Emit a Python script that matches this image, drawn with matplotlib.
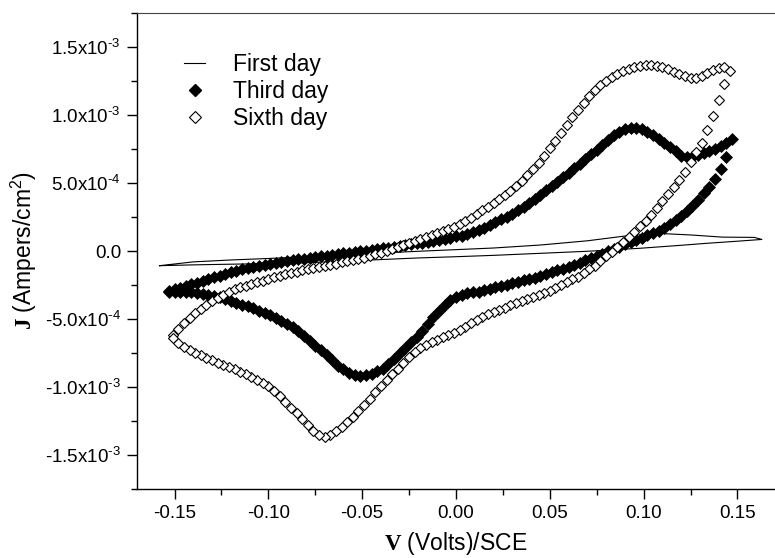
import numpy as np
import matplotlib
matplotlib.use("Agg")
import matplotlib.pyplot as plt
from matplotlib.ticker import MultipleLocator, FixedLocator, FixedFormatter
from matplotlib.lines import Line2D

plt.rcParams['font.family'] = ['Liberation Sans', 'DejaVu Sans']
plt.rcParams['mathtext.fontset'] = 'custom'
plt.rcParams['mathtext.rm'] = 'Liberation Sans'
plt.rcParams['mathtext.it'] = 'Liberation Sans:italic'
plt.rcParams['mathtext.bf'] = 'Liberation Serif:bold'

SCALE = 1e-4  # all current values below are in units of 1e-4 A/cm2

# First day: thin line loop, (V, J) read at key points
first_v_up = [-0.158, -0.14, -0.12, -0.10, -0.08, -0.06, -0.04, -0.02, 0.0, 0.02,
              0.045, 0.07, 0.09, 0.107, 0.125, 0.142, 0.159]
first_j_up = [-1.08, -0.80, -0.66, -0.55, -0.42, -0.28, -0.15, -0.02, 0.10, 0.22,
              0.44, 0.75, 1.10, 1.30, 1.18, 1.02, 1.00]
first_v_low = [-0.158, -0.14, -0.12, -0.10, -0.08, -0.06, -0.04, -0.02, 0.0, 0.02,
               0.045, 0.07, 0.098, 0.12, 0.133, 0.15, 0.163]
first_j_low = [-1.08, -1.02, -0.97, -0.93, -0.86, -0.75, -0.63, -0.51, -0.42, -0.32,
               -0.17, -0.02, 0.20, 0.42, 0.56, 0.72, 0.85]

# potential program: step of the sweep (V)
v_step = 0.003

# Third day, anodic sweep from -0.153 V to 0.147 V
third_fwd_start = -0.153
third_fwd = [-2.97, -2.83, -2.70, -2.57, -2.44, -2.32, -2.19, -2.06, -1.94, -1.82,
             -1.70, -1.58, -1.45, -1.34, -1.26, -1.18, -1.10, -1.02, -0.94, -0.87,
             -0.80, -0.74, -0.68, -0.62, -0.56, -0.50, -0.45, -0.39, -0.34, -0.28,
             -0.23, -0.18, -0.13, -0.08, -0.03, 0.02, 0.07, 0.13, 0.19, 0.25,
             0.32, 0.38, 0.44, 0.50, 0.56, 0.62, 0.69, 0.75, 0.78, 0.86,
             0.96, 1.07, 1.12, 1.24, 1.38, 1.52, 1.70, 1.90, 2.11, 2.32,
             2.52, 2.73, 2.98, 3.27, 3.56, 3.85, 4.14, 4.45, 4.78, 5.11,
             5.44, 5.77, 6.10, 6.43, 6.77, 7.10, 7.43, 7.80, 8.15, 8.50,
             8.78, 8.97, 9.08, 9.08, 8.97, 8.78, 8.53, 8.24, 7.92, 7.62,
             7.34, 6.98, 6.90, 6.92, 7.04, 7.18, 7.34, 7.50, 7.72, 7.97,
             8.22]
# Third day, cathodic sweep from 0.144 V back to -0.153 V
third_rev_start = 0.144
third_rev = [6.93, 6.05, 5.30, 4.72, 4.25, 3.78, 3.34, 2.93, 2.58, 2.27,
             1.96, 1.70, 1.46, 1.30, 1.14, 0.98, 0.82, 0.65, 0.48, 0.31,
             0.14, -0.03, -0.19, -0.35, -0.52, -0.69, -0.86, -1.00, -1.15, -1.29,
             -1.43, -1.58, -1.72, -1.84, -1.95, -2.05, -2.16, -2.26, -2.37, -2.47,
             -2.57, -2.67, -2.78, -2.88, -2.98, -3.05, -3.12, -3.22, -3.40, -3.62,
             -4.00, -4.42, -4.88, -5.40, -5.88, -6.30, -6.72, -7.12, -7.53, -7.93,
             -8.30, -8.64, -8.86, -9.01, -9.12, -9.18, -9.12, -8.96, -8.70, -8.42,
             -8.02, -7.67, -7.30, -6.95, -6.60, -6.22, -5.90, -5.62, -5.34, -5.12,
             -4.92, -4.72, -4.55, -4.38, -4.20, -4.05, -3.95, -3.85, -3.69, -3.53,
             -3.41, -3.31, -3.22, -3.14, -3.07, -3.03, -3.01, -3.00, -2.99, -2.99]

# Sixth day, anodic sweep from -0.151 V to 0.146 V
sixth_fwd_start = -0.151
sixth_fwd = [-6.20, -5.72, -5.28, -4.90, -4.56, -4.23, -3.94, -3.69, -3.45, -3.23,
             -3.02, -2.82, -2.66, -2.54, -2.42, -2.30, -2.18, -2.05, -1.94, -1.83,
             -1.72, -1.62, -1.53, -1.43, -1.33, -1.25, -1.16, -1.08, -1.00, -0.92,
             -0.84, -0.75, -0.67, -0.58, -0.48, -0.37, -0.25, -0.12, 0.02, 0.16,
             0.30, 0.45, 0.59, 0.73, 0.88, 1.03, 1.17, 1.32, 1.48, 1.63,
             1.80, 1.98, 2.20, 2.45, 2.72, 2.98, 3.25, 3.52, 3.80, 4.10,
             4.42, 4.78, 5.17, 5.56, 6.00, 6.48, 7.00, 7.55, 8.10, 8.68,
             9.25, 9.82, 10.35, 10.90, 11.40, 11.85, 12.20, 12.50, 12.78, 13.00,
             13.20, 13.38, 13.50, 13.60, 13.66, 13.66, 13.60, 13.50, 13.35, 13.18,
             13.00, 12.85, 12.75, 12.75, 12.88, 13.08, 13.30, 13.48, 13.55, 13.22]
# Sixth day, cathodic sweep from 0.143 V back to -0.151 V
sixth_rev_start = 0.143
sixth_rev = [12.30, 11.10, 9.95, 8.92, 7.96, 7.28, 6.52, 5.82, 5.22, 4.70,
             4.17, 3.68, 3.16, 2.65, 2.24, 1.84, 1.42, 1.00, 0.64, 0.29,
             -0.05, -0.39, -0.75, -1.07, -1.34, -1.62, -1.89, -2.09, -2.30, -2.51,
             -2.72, -2.91, -3.07, -3.22, -3.37, -3.53, -3.68, -3.84, -4.00, -4.17,
             -4.33, -4.50, -4.66, -4.82, -5.04, -5.30, -5.60, -5.82, -6.02, -6.19,
             -6.35, -6.52, -6.72, -6.93, -7.14, -7.45, -7.82, -8.24, -8.67, -9.07,
             -9.50, -9.90, -10.38, -10.85, -11.33, -11.80, -12.22, -12.60, -12.95, -13.25,
             -13.50, -13.64, -13.52, -13.20, -12.78, -12.35, -11.93, -11.52, -11.10, -10.68,
             -10.28, -9.95, -9.70, -9.48, -9.28, -9.08, -8.88, -8.70, -8.53, -8.37,
             -8.20, -8.04, -7.87, -7.68, -7.48, -7.26, -7.05, -6.78, -6.40]

series_labels = ['First day', 'Third day', 'Sixth day']
y_ticks = [-1.5e-3, -1.0e-3, -5.0e-4, 0.0, 5.0e-4, 1.0e-3, 1.5e-3]
HY = '\u2010'  # plain hyphen in the exponent, as in the original
y_tick_labels = ['-1.5x10$^{%s3}$' % HY, '-1.0x10$^{%s3}$' % HY, '-5.0x10$^{%s4}$' % HY,
                 '0.0', '5.0x10$^{%s4}$' % HY, '1.0x10$^{%s3}$' % HY, '1.5x10$^{%s3}$' % HY]


def sweep(start, values, direction):
    v = start + direction * v_step * np.arange(len(values))
    return v, np.array(values) * SCALE


fig = plt.figure(figsize=(7.75, 5.58), dpi=100)
ax = fig.add_axes([137 / 775, 69 / 558, 638 / 775, 476 / 558])

# first day loop
v1 = first_v_low + first_v_up[::-1]
j1 = (np.array(first_j_low + first_j_up[::-1])) * SCALE
ax.plot(v1, j1, color='black', lw=0.8, zorder=2)

# third day, filled diamonds
vf, jf = sweep(third_fwd_start, third_fwd, 1)
vr, jr = sweep(third_rev_start, third_rev, -1)
ax.plot(np.concatenate([vf, vr]), np.concatenate([jf, jr]), ls='none', marker='D',
        ms=6.2, mfc='black', mec='black', mew=0.5, zorder=3)

# sixth day, open diamonds
vf, jf = sweep(sixth_fwd_start, sixth_fwd, 1)
vr, jr = sweep(sixth_rev_start, sixth_rev, -1)
ax.plot(np.concatenate([vf, vr]), np.concatenate([jf, jr]), ls='none', marker='D',
        ms=5.3, mfc='white', mec='black', mew=0.8, zorder=4)

ax.set_xlim(-0.17, 0.17)
ax.set_ylim(-1.75e-3, 1.75e-3)
ax.xaxis.set_major_locator(MultipleLocator(0.05))
ax.xaxis.set_minor_locator(MultipleLocator(0.025))
ax.xaxis.set_major_formatter(matplotlib.ticker.FormatStrFormatter('%.2f'))
ax.yaxis.set_major_locator(FixedLocator(y_ticks))
ax.yaxis.set_major_formatter(FixedFormatter(y_tick_labels))
ax.yaxis.set_minor_locator(MultipleLocator(2.5e-4))

ax.spines['right'].set_visible(False)
ax.spines['left'].set_linewidth(1.0)
ax.spines['bottom'].set_linewidth(1.0)
ax.spines['top'].set_linewidth(0.8)
ax.spines['top'].set_color('#444444')
ax.tick_params(axis='both', which='major', direction='out', length=7.5, width=1.0,
               labelsize=13.5, pad=4, top=False, right=False)
ax.tick_params(axis='both', which='minor', direction='out', length=4.5, width=1.0,
               top=False, right=False)

ax.set_xlabel(r'$\mathbf{V}$ (Volts)/SCE', fontsize=16.5, labelpad=6)
ax.set_ylabel(r'$\mathbf{J}$ (Ampers/cm$^2$)', fontsize=16.5, labelpad=4)

handles = [
    Line2D([], [], color='black', lw=0.8),
    Line2D([], [], ls='none', marker='D', ms=6.5, mfc='black', mec='black'),
    Line2D([], [], ls='none', marker='D', ms=6, mfc='white', mec='black', mew=0.8),
]
ax.legend(handles, series_labels, loc='upper left', bbox_to_anchor=(0.06, 0.935),
          frameon=False, fontsize=16.5, handlelength=0.9, handletextpad=1.2,
          labelspacing=0.18, borderaxespad=0)

fig.savefig('out.png', dpi=100)
